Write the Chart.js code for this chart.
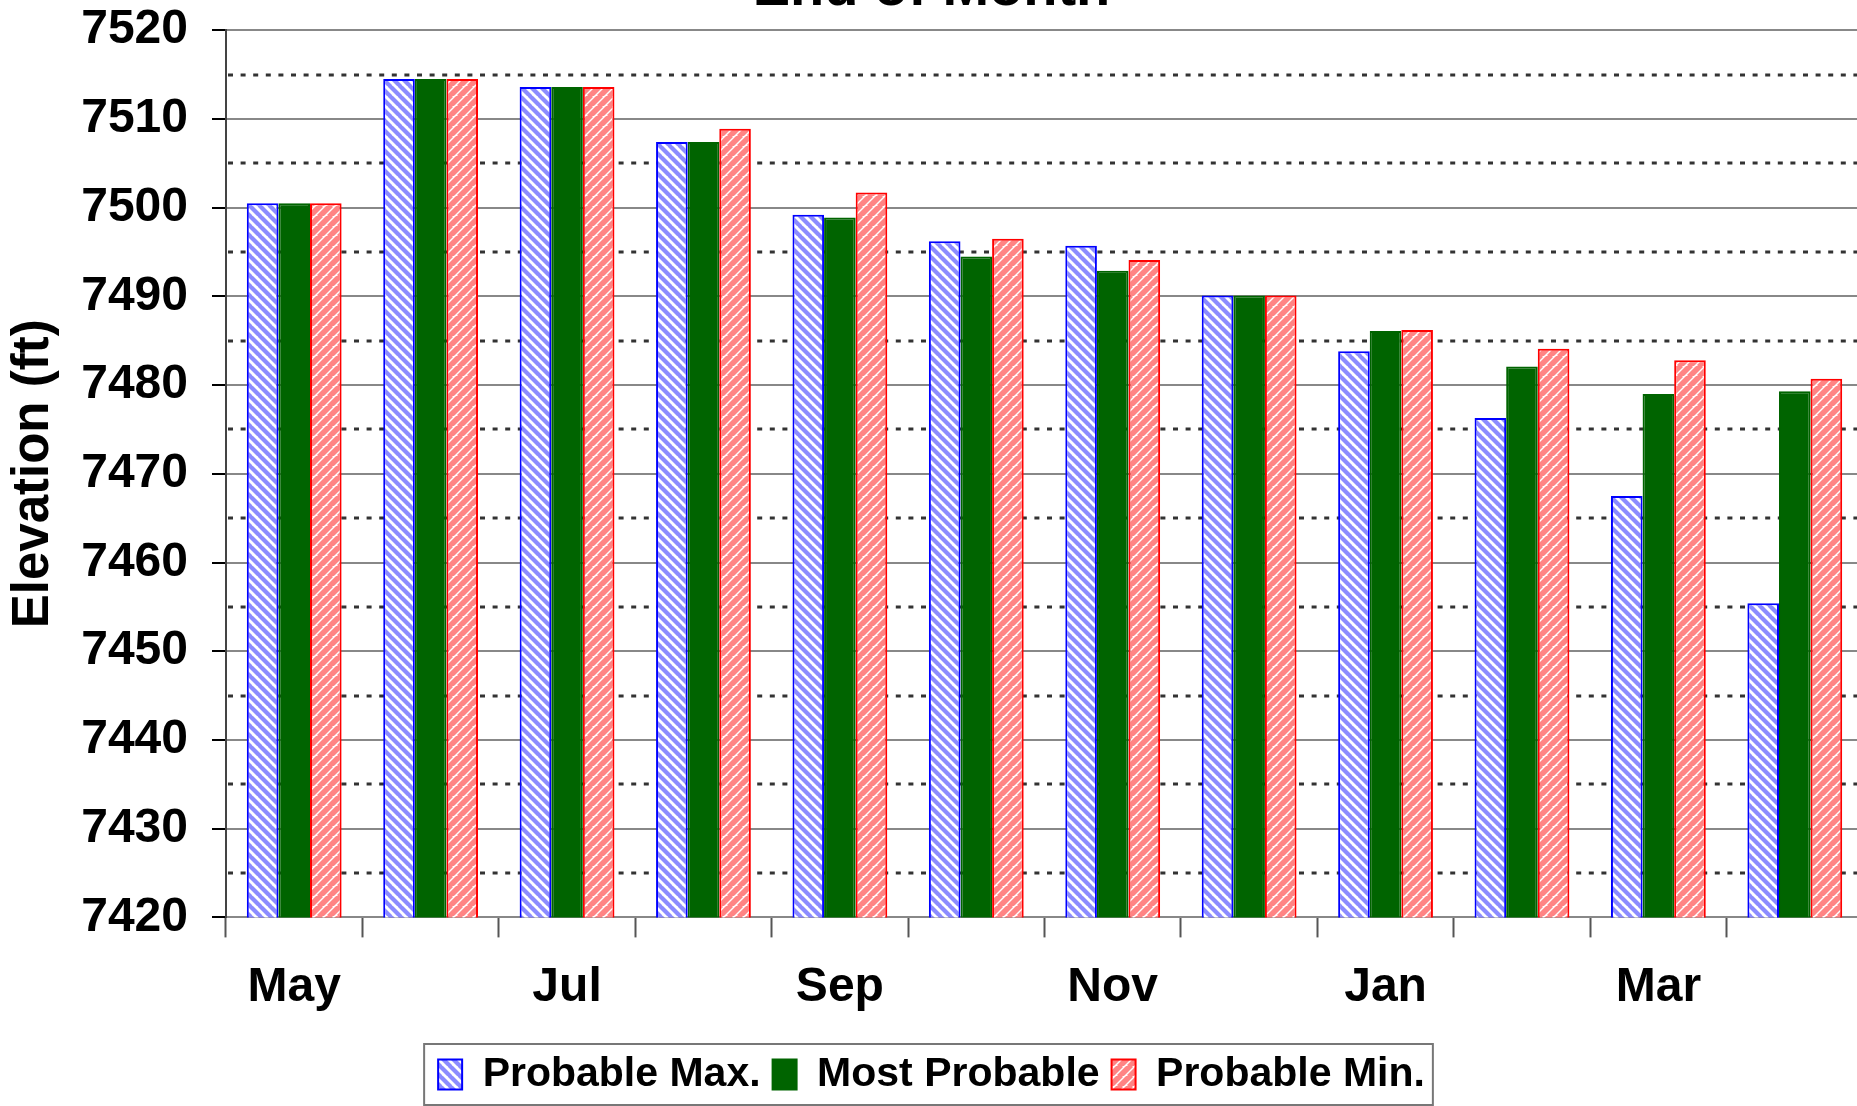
<!DOCTYPE html>
<html>
<head>
<meta charset="utf-8">
<script src="https://cdn.jsdelivr.net/npm/chart.js@4.4.0/dist/chart.umd.min.js"></script>
<style>
  html, body { margin: 0; padding: 0; background: #fff; overflow: hidden; width: 1857px; height: 1106px; }
  #wrap { position: absolute; left: 0; top: -44px; width: 1863px; height: 1150px; }
</style>
</head>
<body>
<div id="wrap"><canvas id="chart"></canvas></div>
<script>
// end-of-month elevations (ft)
const months = ['May', 'Jun', 'Jul', 'Aug', 'Sep', 'Oct', 'Nov', 'Dec', 'Jan', 'Feb', 'Mar', 'Apr'];
const probableMax  = [7500.5, 7514.5, 7513.6, 7507.4, 7499.2, 7496.2, 7495.7, 7490.1, 7483.8, 7476.3, 7467.5, 7455.4];
const mostProbable = [7500.5, 7514.5, 7513.6, 7507.4, 7498.9, 7494.5, 7492.9, 7490.1, 7486.1, 7482.1, 7479.0, 7479.3];
const probableMin  = [7500.5, 7514.5, 7513.6, 7508.9, 7501.7, 7496.5, 7494.1, 7490.1, 7486.2, 7484.1, 7482.8, 7480.7];
const yMin = 7420;
const yMax = 7520;
const yStep = 10;
const dottedLevels = [7425, 7435, 7445, 7455, 7465, 7475, 7485, 7495, 7505, 7515];

Chart.defaults.font.family = '"Liberation Sans", Arial, sans-serif';
Chart.defaults.font.weight = 'bold';
Chart.defaults.color = '#000';

function makeHatch(color, dir, lw) {
    const size = 10;
    const c = document.createElement('canvas');
    c.width = size; c.height = size;
    const g = c.getContext('2d');
    g.fillStyle = '#fff';
    g.fillRect(0, 0, size, size);
    g.strokeStyle = color;
    g.lineWidth = lw;
    for (let k = -size; k <= size; k += size) {
        g.beginPath();
        if (dir === '\\') {
            g.moveTo(k - 1, -1); g.lineTo(k + size + 1, size + 1);
        } else {
            g.moveTo(k - 1, size + 1); g.lineTo(k + size + 1, -1);
        }
        g.stroke();
    }
    return g.createPattern(c, 'repeat');
}

const ctx = document.getElementById('chart').getContext('2d');
const blueHatch = makeHatch('#8c8cff', '\\', 4.2);
const redHatch = makeHatch('#ff8484', '/', 5.6);

// dotted half-step lines behind the bars
const dottedLines = {
    id: 'dottedLines',
    beforeDatasetsDraw(chart) {
        const { ctx, chartArea, scales } = chart;
        ctx.save();
        ctx.strokeStyle = '#333';
        ctx.lineWidth = 3;
        ctx.setLineDash([5, 7.6]);
        dottedLevels.forEach(v => {
            const y = Math.round(scales.y.getPixelForValue(v));
            ctx.beginPath();
            ctx.moveTo(chartArea.left + 2, y);
            ctx.lineTo(chartArea.right, y);
            ctx.stroke();
        });
        ctx.restore();
    }
};

// frame round the legend
const legendFrame = {
    id: 'legendFrame',
    afterDraw(chart) {
        const boxes = chart.legend.legendHitBoxes;
        if (!boxes || !boxes.length) return;
        let l = Infinity, r = -Infinity, t = Infinity, b = -Infinity;
        boxes.forEach(h => {
            l = Math.min(l, h.left); r = Math.max(r, h.left + h.width);
            t = Math.min(t, h.top); b = Math.max(b, h.top + h.height);
        });
        const { ctx } = chart;
        ctx.save();
        ctx.strokeStyle = '#777';
        ctx.lineWidth = 2;
        ctx.strokeRect(l - 14, t - 10, r - l + 22, b - t + 20);
        ctx.restore();
    }
};

new Chart(ctx, {
    type: 'bar',
    data: {
        labels: months,
        datasets: [
            { label: 'Probable Max.', data: probableMax, backgroundColor: blueHatch, borderColor: '#0000ff', borderWidth: 2 },
            { label: 'Most Probable', data: mostProbable, backgroundColor: '#006400', borderColor: '#006400', borderWidth: 2 },
            { label: 'Probable Min.', data: probableMin, backgroundColor: redHatch, borderColor: '#ff0000', borderWidth: 2 }
        ]
    },
    options: {
        responsive: true,
        maintainAspectRatio: false,
        animation: false,
        datasets: { bar: { categoryPercentage: 0.695, barPercentage: 1.0 } },
        layout: { padding: { left: 0, right: 0, top: 0, bottom: 1 } },
        plugins: {
            title: {
                display: true,
                text: 'End of Month',
                font: { size: 56, weight: 'bold' },
                color: '#000',
                padding: { top: 0, bottom: 7 }
            },
            legend: {
                position: 'bottom',
                labels: {
                    font: { size: 41, weight: 'bold' },
                    color: '#000',
                    boxWidth: 24,
                    boxHeight: 30,
                    padding: 12
                }
            },
            tooltip: { enabled: false }
        },
        scales: {
            x: {
                grid: { drawOnChartArea: false, drawTicks: true, tickLength: 20, tickColor: '#555', tickWidth: 2, offset: true },
                border: { color: '#888', width: 2 },
                ticks: {
                    autoSkip: false,
                    maxRotation: 0,
                    padding: 22,
                    font: { size: 48, weight: 'bold' },
                    color: '#000',
                    callback: (v, i) => (i % 2 === 0 ? months[i] : '')
                },
                afterFit(scale) { scale.height += 3; }
            },
            y: {
                min: yMin,
                max: yMax,
                ticks: {
                    stepSize: yStep,
                    font: { size: 48, weight: 'bold' },
                    color: '#000',
                    padding: 24,
                    callback: v => String(v)
                },
                grid: { color: '#888', lineWidth: 2, tickColor: '#000', tickLength: 14, tickWidth: 2 },
                border: { color: '#444', width: 2 },
                title: {
                    display: true,
                    text: 'Elevation (ft)',
                    font: { size: 51, weight: 'bold' },
                    color: '#000',
                    padding: { top: 3, bottom: 0 }
                },
                afterFit(scale) { scale.width = 226; }
            }
        }
    },
    plugins: [dottedLines, legendFrame]
});
</script>
</body>
</html>
